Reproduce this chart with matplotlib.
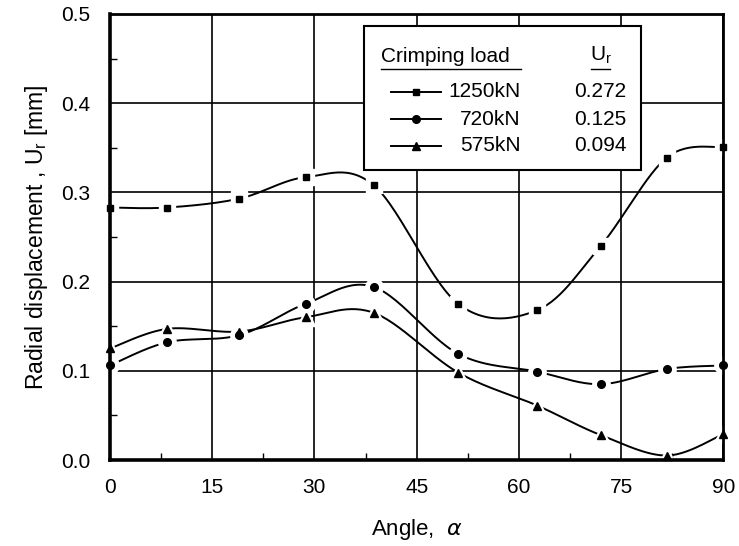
import numpy as np
import matplotlib
matplotlib.use("Agg")
import matplotlib.pyplot as plt
from matplotlib.ticker import MultipleLocator

plt.rcParams['font.family'] = ['Liberation Sans', 'DejaVu Sans']

# data
angle = [0, 8.4, 19.0, 28.7, 38.7, 51.1, 62.7, 72.0, 81.7, 90]
u_1250 = [0.283, 0.283, 0.293, 0.317, 0.308, 0.175, 0.168, 0.240, 0.339, 0.351]
u_720 = [0.106, 0.132, 0.140, 0.175, 0.194, 0.119, 0.099, 0.085, 0.102, 0.106]
u_575 = [0.125, 0.147, 0.144, 0.160, 0.165, 0.098, 0.061, 0.028, 0.005, 0.029]

loads = ['1250kN', '720kN', '575kN']
ur_vals = ['0.272', '0.125', '0.094']
markers = ['s', 'o', '^']
msizes = [4.5, 5.5, 6]


def smooth(x, y, n=30):
    # bezier smoothing like spreadsheet "smoothed line"
    p = np.column_stack([x, y]).astype(float)
    out = []
    for i in range(len(p) - 1):
        p0 = p[i - 1] if i > 0 else p[i]
        p3 = p[i + 2] if i + 2 < len(p) else p[i + 1]
        c1 = p[i] + (p[i + 1] - p0) / 6
        c2 = p[i + 1] - (p3 - p[i]) / 6
        t = np.linspace(0, 1, n)[:, None]
        seg = ((1 - t) ** 3) * p[i] + 3 * ((1 - t) ** 2) * t * c1 + 3 * (1 - t) * t ** 2 * c2 + t ** 3 * p[i + 1]
        out.append(seg)
    out = np.vstack(out)
    return out[:, 0], out[:, 1]


fig = plt.figure(figsize=(7.39, 5.46), dpi=100)
ax = fig.add_axes([0.1488, 0.1575, 0.830, 0.817])

series = [u_1250, u_720, u_575]
for vals, m, ms in zip(series, markers, msizes):
    sx, sy = smooth(angle, vals)
    ax.plot(sx, sy, color='black', lw=1.4, zorder=3, clip_on=False)
    ax.plot(angle, vals, ls='none', marker=m, ms=ms + 7, color='white', zorder=4, clip_on=False)
    ax.plot(angle, vals, ls='none', marker=m, ms=ms, color='black', zorder=5, clip_on=False)

ax.set_xlim(0, 90)
ax.set_ylim(0, 0.5)
ax.xaxis.set_major_locator(MultipleLocator(15))
ax.xaxis.set_minor_locator(MultipleLocator(7.5))
ax.yaxis.set_major_locator(MultipleLocator(0.1))
ax.yaxis.set_minor_locator(MultipleLocator(0.05))
ax.yaxis.set_major_formatter(matplotlib.ticker.FormatStrFormatter('%.1f'))
ax.grid(True, which='major', color='black', lw=1.2, zorder=1)
ax.tick_params(which='both', direction='in', top=False, right=False, labelsize=15)
ax.tick_params(which='major', length=0)
ax.tick_params(which='minor', length=5, width=1)
ax.tick_params(axis='x', pad=13)
ax.tick_params(axis='y', pad=14)
for side in ['left', 'bottom']:
    ax.spines[side].set_linewidth(2.6)
for side in ['top', 'right']:
    ax.spines[side].set_linewidth(2.0)
for s in ax.spines.values():
    s.set_zorder(6)

ax.set_xlabel(r'Angle,  $\alpha$', fontsize=16, labelpad=14)
ax.set_ylabel(r'Radial displacement , U$_\mathregular{r}$ [mm]', fontsize=16.5, labelpad=8)

# legend box drawn by hand
tr = ax.transAxes
ax.add_patch(plt.Rectangle((0.414, 0.650), 0.452, 0.323, transform=tr, facecolor='white',
                           edgecolor='black', lw=1.5, zorder=7))
ax.text(0.442, 0.905, 'Crimping load', transform=tr, fontsize=15, va='center', ha='left', zorder=8)
ax.plot([0.442, 0.670], [0.877, 0.877], transform=tr, color='black', lw=1, zorder=8)
ax.text(0.80, 0.908, r'U$_\mathregular{r}$', transform=tr, fontsize=15, va='center', ha='center', zorder=8)
ax.plot([0.785, 0.815], [0.877, 0.877], transform=tr, color='black', lw=1, zorder=8)
rows_y = [0.825, 0.764, 0.704]
for yy, lab, val, m, ms in zip(rows_y, loads, ur_vals, markers, msizes):
    ax.plot([0.458, 0.540], [yy, yy], transform=tr, color='black', lw=1.4, zorder=8)
    ax.plot([0.499], [yy], transform=tr, marker=m, ms=ms, color='black', zorder=9)
    ax.text(0.670, yy, lab, transform=tr, fontsize=15, va='center', ha='right', zorder=8)
    ax.text(0.800, yy, val, transform=tr, fontsize=15, va='center', ha='center', zorder=8)

fig.savefig('out.png', dpi=100)
